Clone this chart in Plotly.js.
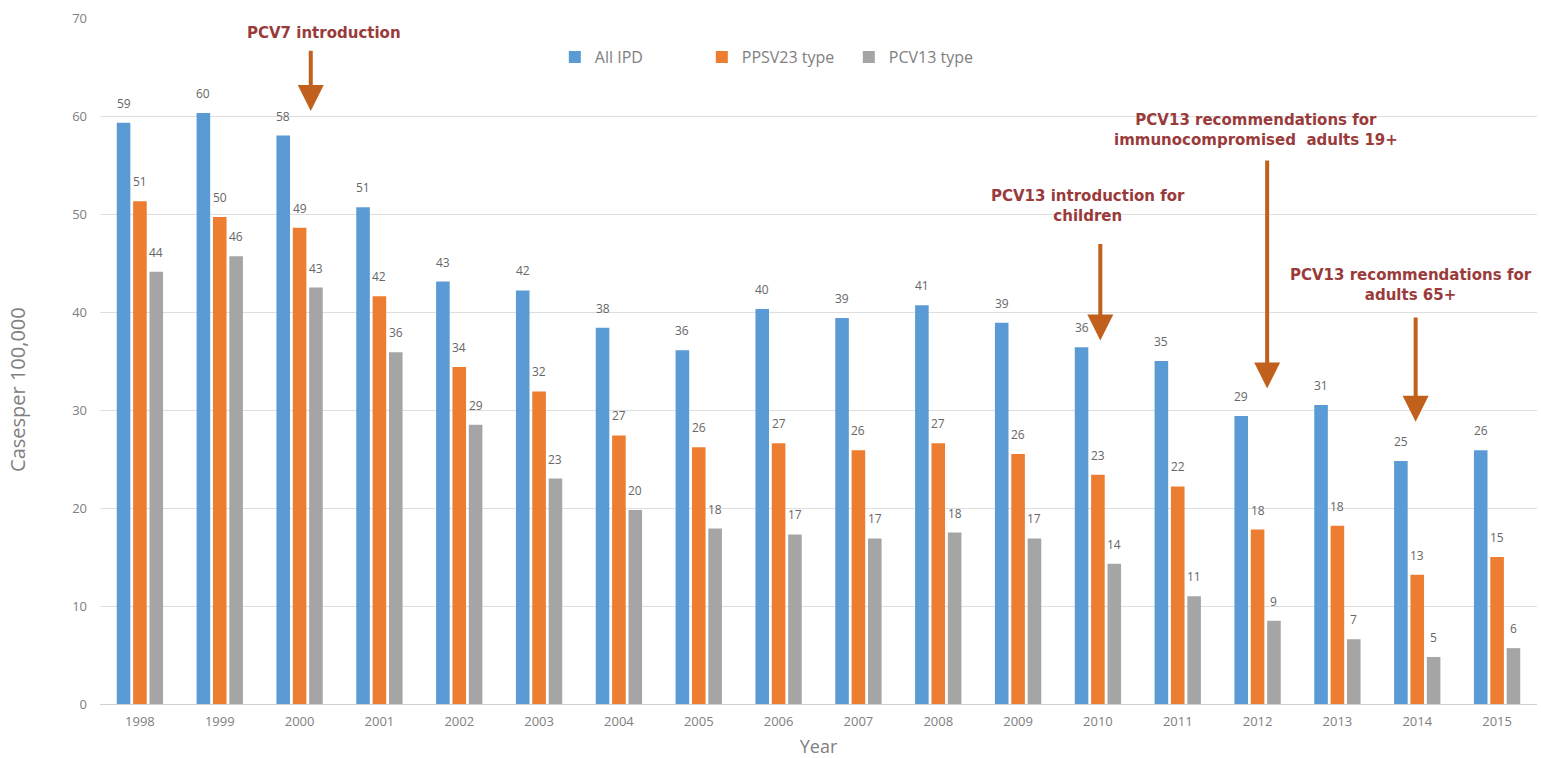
<!DOCTYPE html>
<html>
<head>
<meta charset="utf-8">
<script src="https://cdn.plot.ly/plotly-3.0.1.min.js"></script>
<style>
  html, body { margin: 0; padding: 0; background: #ffffff; }
  #chart { width: 1541px; height: 758px; }
</style>
</head>
<body>
<div id="chart"></div>
<script>
// Invasive pneumococcal disease incidence, cases per 100,000
const years = ['1998','1999','2000','2001','2002','2003','2004','2005','2006',
               '2007','2008','2009','2010','2011','2012','2013','2014','2015'];
const allIPD   = [59.3, 60.3, 58.0, 50.7, 43.1, 42.2, 38.4, 36.1, 40.3,
                  39.4, 40.7, 38.9, 36.4, 35.0, 29.4, 30.5, 24.8, 25.9];
const ppsv23   = [51.3, 49.7, 48.6, 41.6, 34.4, 31.9, 27.4, 26.2, 26.6,
                  25.9, 26.6, 25.5, 23.4, 22.2, 17.8, 18.2, 13.2, 15.0];
const pcv13    = [44.1, 45.7, 42.5, 35.9, 28.5, 23.0, 19.8, 17.9, 17.3,
                  16.9, 17.5, 16.9, 14.3, 11.0, 8.5, 6.6, 4.8, 5.7];
const yTicks   = [0, 10, 20, 30, 40, 50, 60, 70];

// Vaccine milestones: label position, arrow column, arrow tail and tip (data units)
const milestones = [
  {text: 'PCV7 introduction', lx: 2.31, ly: 68.5, ax: 2.14, tail: 66.8, tip: 60.5},
  {text: 'PCV13 introduction for<br>children', lx: 11.87, ly: 50.8, ax: 12.03, tail: 47.1, tip: 37.1},
  {text: 'PCV13 recommendations for<br>immunocompromised  adults 19+', lx: 13.98, ly: 58.6, ax: 14.12, tail: 55.6, tip: 32.2},
  {text: 'PCV13 recommendations for<br>adults 65+', lx: 15.92, ly: 42.8, ax: 15.98, tail: 39.6, tip: 28.8}
];

const BARGAP = 0.385, GROUPGAP = 0.17;
const seriesList = [
  {name: 'All IPD', values: allIPD, color: '#5b9bd5'},
  {name: 'PPSV23 type', values: ppsv23, color: '#ed7d31'},
  {name: 'PCV13 type', values: pcv13, color: '#a5a5a5'}
];

const tickFont = {family: 'Open Sans, Liberation Sans, sans-serif', size: 13, color: '#808080'};
const labelFont = {family: 'Open Sans, Liberation Sans, sans-serif', size: 12, color: '#666666'};

const data = seriesList.map(s => ({
  type: 'bar', name: s.name, x: years, y: s.values,
  marker: {color: s.color},
  hoverinfo: 'x+y+name'
}));

const annotations = [];

// Value labels sit a little above each bar, centred on its slot within the group
const slot = (1 - BARGAP) / seriesList.length;
seriesList.forEach((s, k) => {
  const offset = (k - (seriesList.length - 1) / 2) * slot;
  s.values.forEach((v, i) => {
    annotations.push({
      xref: 'x', yref: 'y', x: i + offset, y: v,
      text: String(Math.round(v)), showarrow: false,
      xanchor: 'center', yanchor: 'bottom', yshift: 9,
      font: labelFont
    });
  });
});

milestones.forEach(m => {
  annotations.push({
    xref: 'x', yref: 'y', x: m.lx, y: m.ly,
    text: m.text, showarrow: false,
    font: {family: 'DejaVu Sans, Verdana, sans-serif', size: 15, color: '#9a3b3b', weight: 'bold'},
    align: 'center', xanchor: 'center', yanchor: 'middle'
  });
  annotations.push({
    xref: 'x', yref: 'y', x: m.ax, y: m.tip,
    axref: 'x', ayref: 'y', ax: m.ax, ay: m.tail,
    text: '', showarrow: true,
    arrowhead: 2, arrowsize: 1.3, arrowwidth: 4, arrowcolor: '#c0601c'
  });
});

// Vertical axis title
annotations.push({
  xref: 'paper', yref: 'paper', x: -0.057, y: 0.458,
  text: 'Casesper 100,000', textangle: -90, showarrow: false,
  xanchor: 'center', yanchor: 'middle',
  font: {family: 'Open Sans, Liberation Sans, sans-serif', size: 20, color: '#808080'}
});

const layout = {
  width: 1541, height: 758,
  margin: {l: 100, r: 4, t: 18, b: 54},
  paper_bgcolor: '#ffffff', plot_bgcolor: '#ffffff',
  barmode: 'group', bargap: BARGAP, bargroupgap: GROUPGAP,
  font: {family: 'Open Sans, Liberation Sans, sans-serif', color: '#595959'},
  xaxis: {
    type: 'category', tickvals: years, ticktext: years,
    tickfont: tickFont, ticks: '', showgrid: false, showline: false,
    ticklabelstandoff: 8, automargin: false,
    range: [-0.5, 17.5],
    title: {text: 'Year', font: {size: 18, color: '#808080'}, standoff: 12}
  },
  yaxis: {
    range: [0, 70], tickvals: yTicks, tickfont: tickFont,
    showgrid: true, gridcolor: '#dedede', gridwidth: 1,
    zeroline: true, zerolinecolor: '#d0d0d0', zerolinewidth: 1,
    ticks: '', ticklen: 0, showline: false,
    ticklabelstandoff: 12, automargin: false
  },
  showlegend: true,
  legend: {
    orientation: 'h', x: 0.3165, xanchor: 'left', y: 0.943, yanchor: 'middle',
    font: {family: 'Open Sans, Liberation Sans, sans-serif', size: 16, color: '#808080'},
    itemwidth: 30, entrywidth: 102, entrywidthmode: 'pixels',
    bgcolor: 'rgba(0,0,0,0)'
  },
  annotations: annotations
};

Plotly.newPlot('chart', data, layout, {displayModeBar: false, staticPlot: true});
</script>
</body>
</html>
